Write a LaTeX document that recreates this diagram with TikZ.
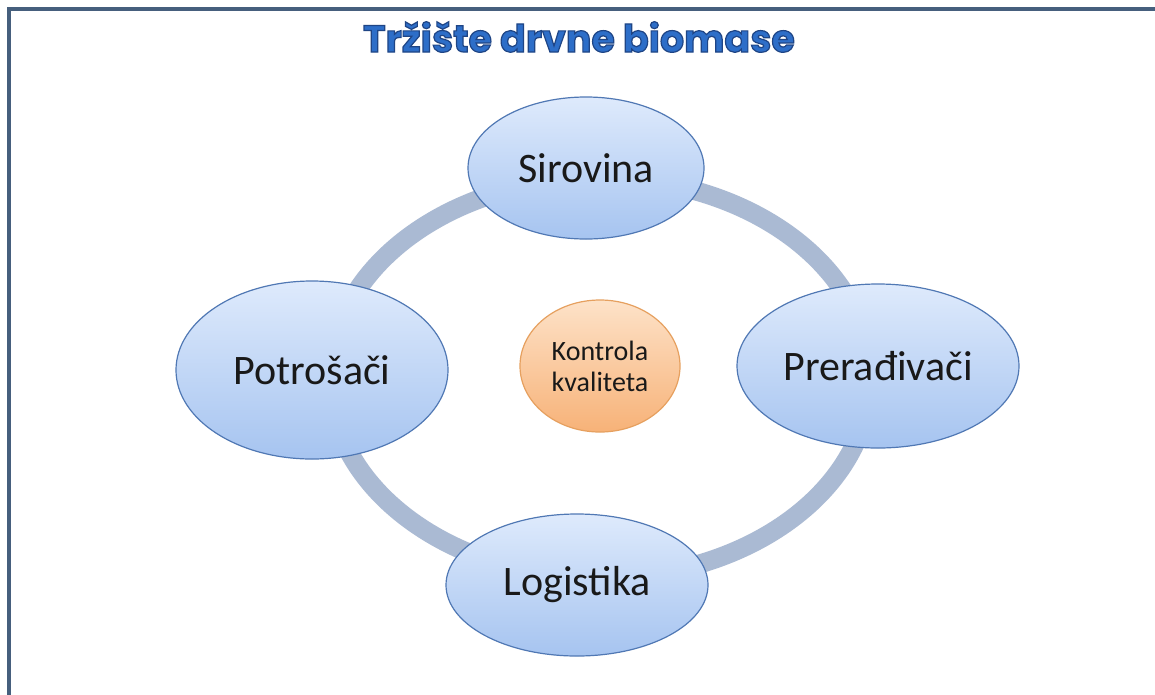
\documentclass[tikz,border=0pt]{standalone}
\usepackage{fontspec}
\setmainfont{Carlito}
\newfontfamily\titlefont{Poppins}
\usetikzlibrary{shapes.geometric,shadows}
\definecolor{framecol}{RGB}{70,95,125}
\definecolor{ringcol}{RGB}{170,186,211}
\definecolor{bluetop}{RGB}{222,234,252}
\definecolor{bluebot}{RGB}{166,196,240}
\definecolor{blueedge}{RGB}{80,120,180}
\definecolor{ortop}{RGB}{253,226,200}
\definecolor{orbot}{RGB}{247,178,120}
\definecolor{oredge}{RGB}{230,160,95}
\definecolor{titlecol}{RGB}{45,110,200}
\tikzset{
  bubble/.style={ellipse, draw=blueedge, line width=1.2pt, top color=bluetop, bottom color=bluebot, inner sep=0pt, font=\fontsize{42}{48}\selectfont, text=black!90},
  qbubble/.style={ellipse, draw=oredge, line width=1.2pt, top color=ortop, bottom color=orbot, inner sep=0pt, font=\fontsize{28}{31}\selectfont, text=black!90, align=center},
  ring/.style={draw=ringcol, line width=19pt},
  framestyle/.style={draw=framecol, line width=4pt},
  titlestyle/.style={font=\titlefont\bfseries\fontsize{38}{44}\selectfont, text=titlecol}
}
\begin{document}
\begin{tikzpicture}[x=1pt,y=-1pt]
\useasboundingbox (0,0) rectangle (1155,694);
\fill[white] (0,0) rectangle (1155,694);
\draw[framestyle] (9,700) -- (9,9) -- (1160,9);
\node[titlestyle] (title) at (579,37) {\special{pdf:code q 2 Tr 1.2 w 0.12 0.27 0.52 RG}Tržište drvne biomase\special{pdf:code Q}};
% ring
\coordinate (ringc) at (600,378);
\draw[ring] (ringc) ellipse [x radius=270, y radius=200];
\node[bubble, minimum width=236pt, minimum height=142pt] (sir) at (586,168) {Sirovina};
\node[bubble, minimum width=282pt, minimum height=164pt] (pre) at (878,366) {Prerađivači};
\node[bubble, minimum width=262pt, minimum height=142pt] (log) at (577,585) {Logistika};
\node[bubble, minimum width=272pt, minimum height=178pt] (pot) at (312,370) {Potrošači};
\node[qbubble, minimum width=160pt, minimum height=132pt] (kon) at (600,366) {Kontrola\\kvaliteta};
\end{tikzpicture}
\end{document}
